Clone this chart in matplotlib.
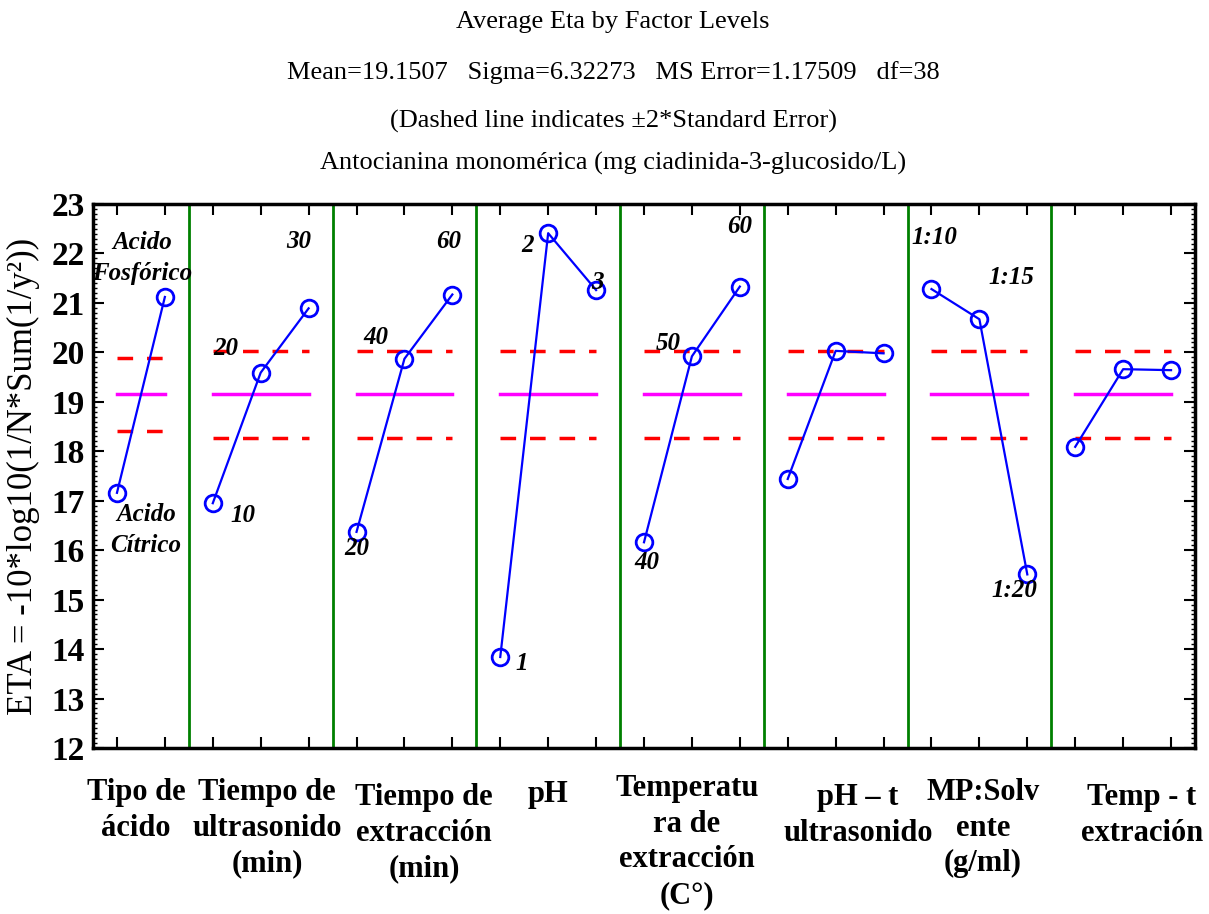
import numpy as np
import matplotlib
matplotlib.use("Agg")
import matplotlib.pyplot as plt
from matplotlib.ticker import MultipleLocator

plt.rcParams['font.family'] = ['Liberation Serif', 'DejaVu Serif']

# factor names (bottom labels)
factors = ["Tipo de\nácido", "Tiempo de\nultrasonido\n(min)", "Tiempo de\nextracción\n(min)",
           "pH", "Temperatu\nra de\nextracción\n(C°)", "pH – t\nultrasonido",
           "MP:Solv\nente\n(g/ml)", "Temp - t\nextración"]

# average eta per level, one list per factor
eta_acido = [17.16, 21.12]
eta_t_ultra = [16.95, 19.59, 20.89]
eta_t_extr = [16.37, 19.87, 21.17]
eta_ph = [13.84, 22.41, 21.26]
eta_temp = [16.16, 19.92, 21.33]
eta_ph_t = [17.44, 20.03, 19.98]
eta_mp = [21.28, 20.67, 15.51]
eta_temp_t = [18.09, 19.66, 19.64]
series = [eta_acido, eta_t_ultra, eta_t_extr, eta_ph, eta_temp, eta_ph_t, eta_mp, eta_temp_t]

# level labels
lv_acido = ["Acido\nCítrico", "Acido\nFosfórico"]
lv_t_ultra = ["10", "20", "30"]
lv_t_extr = ["20", "40", "60"]
lv_ph = ["1", "2", "3"]
lv_temp = ["40", "50", "60"]
lv_ph_t = ["", "", ""]
lv_mp = ["1:10", "1:15", "1:20"]
lv_temp_t = ["", "", ""]
levels = [lv_acido, lv_t_ultra, lv_t_extr, lv_ph, lv_temp, lv_ph_t, lv_mp, lv_temp_t]

grand_mean = 19.1507
se2_upper = [19.88, 20.03, 20.03, 20.03, 20.03, 20.03, 20.03, 20.03]
se2_lower = [18.42, 18.27, 18.27, 18.27, 18.27, 18.27, 18.27, 18.27]

# label offsets in pixels (dx, dy) relative to each point
offs = [[(29, -37), (-23, 39)],
        [(30, -12), (-35, 24), (-10, 67)],
        [(0, -17), (-29, 21), (-4, 53)],
        [(21, -6), (-21, -12), (1, 8)],
        [(3, -20), (-24, 13), (0, 60)],
        [(0, 0), (0, 0), (0, 0)],
        [(3, 52), (32, 42), (-13, -16)],
        [(0, 0), (0, 0), (0, 0)]]

fig = plt.figure(figsize=(12.09, 9.14), dpi=100)
ax = fig.add_axes([93 / 1209, 1 - 748 / 914, 1102 / 1209, 544 / 914])

start = 0
all_pos = []
for k, vals in enumerate(series):
    n = len(vals)
    xs = start + 0.5 + np.arange(n)
    all_pos.extend(xs)
    ax.plot([xs[0], xs[-1]], [grand_mean, grand_mean], color='magenta', lw=2.5)
    ax.plot([xs[0], xs[-1]], [se2_upper[k], se2_upper[k]], color='red', lw=2.5, dashes=(4.5, 4))
    ax.plot([xs[0], xs[-1]], [se2_lower[k], se2_lower[k]], color='red', lw=2.5, dashes=(4.5, 4))
    ax.plot(xs, vals, color='blue', lw=1.6, marker='o', ms=12, mfc='none', mec='blue', mew=2)
    for x, v, lab, o in zip(xs, vals, levels[k], offs[k]):
        if lab:
            ax.annotate(lab, (x, v), xytext=o, textcoords='offset pixels', ha='center',
                        va='center', fontsize=18, fontweight='bold', style='italic',
                        linespacing=1.45)
    start += n
    if k < len(series) - 1:
        ax.axvline(start, color='green', lw=2)

ax.set_xlim(0, start)
ax.set_ylim(12, 23)
ax.set_xticks(all_pos)
ax.set_xticklabels([])
ax.yaxis.set_major_locator(MultipleLocator(1))
ax.yaxis.set_minor_locator(MultipleLocator(0.1))
ax.tick_params(axis='both', which='major', direction='in', length=8, width=1.5,
               top=True, right=True, labelsize=24, pad=6)
ax.tick_params(axis='y', which='minor', direction='in', length=3, width=1, right=True)
for lab in ax.get_yticklabels():
    lab.set_fontweight('bold')
for sp in ax.spines.values():
    sp.set_linewidth(2.5)

ax.set_ylabel("ETA = -10*log10(1/N*Sum(1/y²))", fontsize=25, labelpad=8)

# title block
title_lines = ["Average Eta by Factor Levels",
               "Mean=19.1507   Sigma=6.32273   MS Error=1.17509   df=38",
               "(Dashed line indicates ±2*Standard Error)",
               "Antocianina monomérica (mg ciadinida-3-glucosido/L)"]
for txt, yp in zip(title_lines, [22, 73, 121, 163]):
    fig.text(613 / 1209, 1 - yp / 914, txt, ha='center', va='center', fontsize=19)

# factor labels under the axis
lab_x = [136, 267, 424, 548, 687, 858, 983, 1142]
lab_y = [778, 778, 783, 780, 774, 783, 778, 783]
for txt, xp, yp in zip(factors, lab_x, lab_y):
    fig.text(xp / 1209, 1 - yp / 914, txt, ha='center', va='top', fontsize=22,
             fontweight='bold', linespacing=1.3)

fig.savefig("out.png", dpi=100)
